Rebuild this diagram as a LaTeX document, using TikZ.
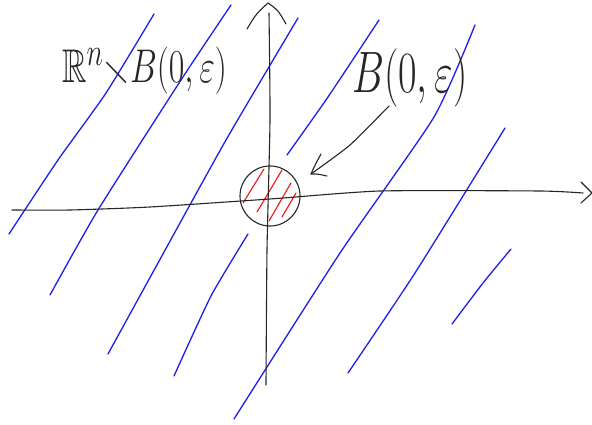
\documentclass[tikz,border=0pt]{standalone}
\usepackage{amssymb}
\usetikzlibrary{arrows.meta}
\definecolor{penblue}{RGB}{30,30,235}
\definecolor{penred}{RGB}{240,20,20}
\tikzset{
  ink/.style={draw=black!85, line width=1.1pt, line cap=round, line join=round},
  hatch/.style={draw=penblue, line width=1.3pt, line cap=round},
  redhatch/.style={draw=penred, line width=1.1pt, line cap=round},
  lbl/.style={inner sep=0pt, text=black!85},
  wob/.style={smooth, tension=0.35}
}
\begin{document}
\begin{tikzpicture}[x=1pt,y=-1pt]
\useasboundingbox (0,0) rectangle (592,425);
\fill[white] (0,0) rectangle (592,425);
% blue hatching
\draw[hatch] plot[wob] coordinates {(9,234) (58,160) (106,93) (154,14)};
\draw[hatch] plot[wob] coordinates {(50,295) (98,210) (181,80) (231,5)};
\draw[hatch] plot[wob] coordinates {(108,354) (158,263) (226,140) (298,18)};
\draw[hatch] plot[wob] coordinates {(174,376) (211,296) (248,234)};
\draw[hatch] plot[wob] coordinates {(287,155) (328,97) (379,20)};
\draw[hatch] plot[wob] coordinates {(234,419) (340,253) (434,117) (475,25)};
\draw[hatch] plot[wob] coordinates {(348,373) (415,273) (505,128)};
\draw[hatch] plot[wob] coordinates {(452,324) (483,283) (511,249)};
% red hatching
\draw[redhatch] (243,203) -- (264,169);
\draw[redhatch] (257,212) -- (282,170);
\draw[redhatch] (269,221) -- (291,183);
\draw[redhatch] (282,217) -- (296,193);
% axes
\draw[ink] plot[wob] coordinates {(12,210) (70,210) (150,207) (270,199) (380,191) (540,191) (583,193)};
\coordinate (xtip) at (592,193);
\draw[ink] (581,182) -- (xtip) -- (581,203);
\draw[ink] plot[wob] coordinates {(266,385) (267,250) (270,120) (269,13)};
\coordinate (ytip) at (268,3);
\draw[ink] (247,29) .. controls (256,14) .. (ytip) .. controls (278,10) .. (286,24);
% ball
\node[ink, circle, minimum size=60pt, inner sep=0pt] (ball) at (270,196) {};
% labels
\node[lbl, anchor=base west] (outside) at (62,83)
  {\scalebox{1.36}[1.9]{\Huge$\mathbb{R}^n{\smallsetminus}B(0,\varepsilon)$}};
\node[lbl, anchor=base west] (inside) at (352,93)
  {\scalebox{1.62}[2.35]{\Huge$B(0,\varepsilon)$}};
% pointer
\coordinate (pstart) at (389,106);
\coordinate (ptip) at (311,174);
\draw[ink] plot[wob] coordinates {(pstart) (350,145) (ptip)};
\draw[ink] (321,154) .. controls (315,165) .. (ptip) .. controls (318,174) .. (327,176);
\end{tikzpicture}
\end{document}
